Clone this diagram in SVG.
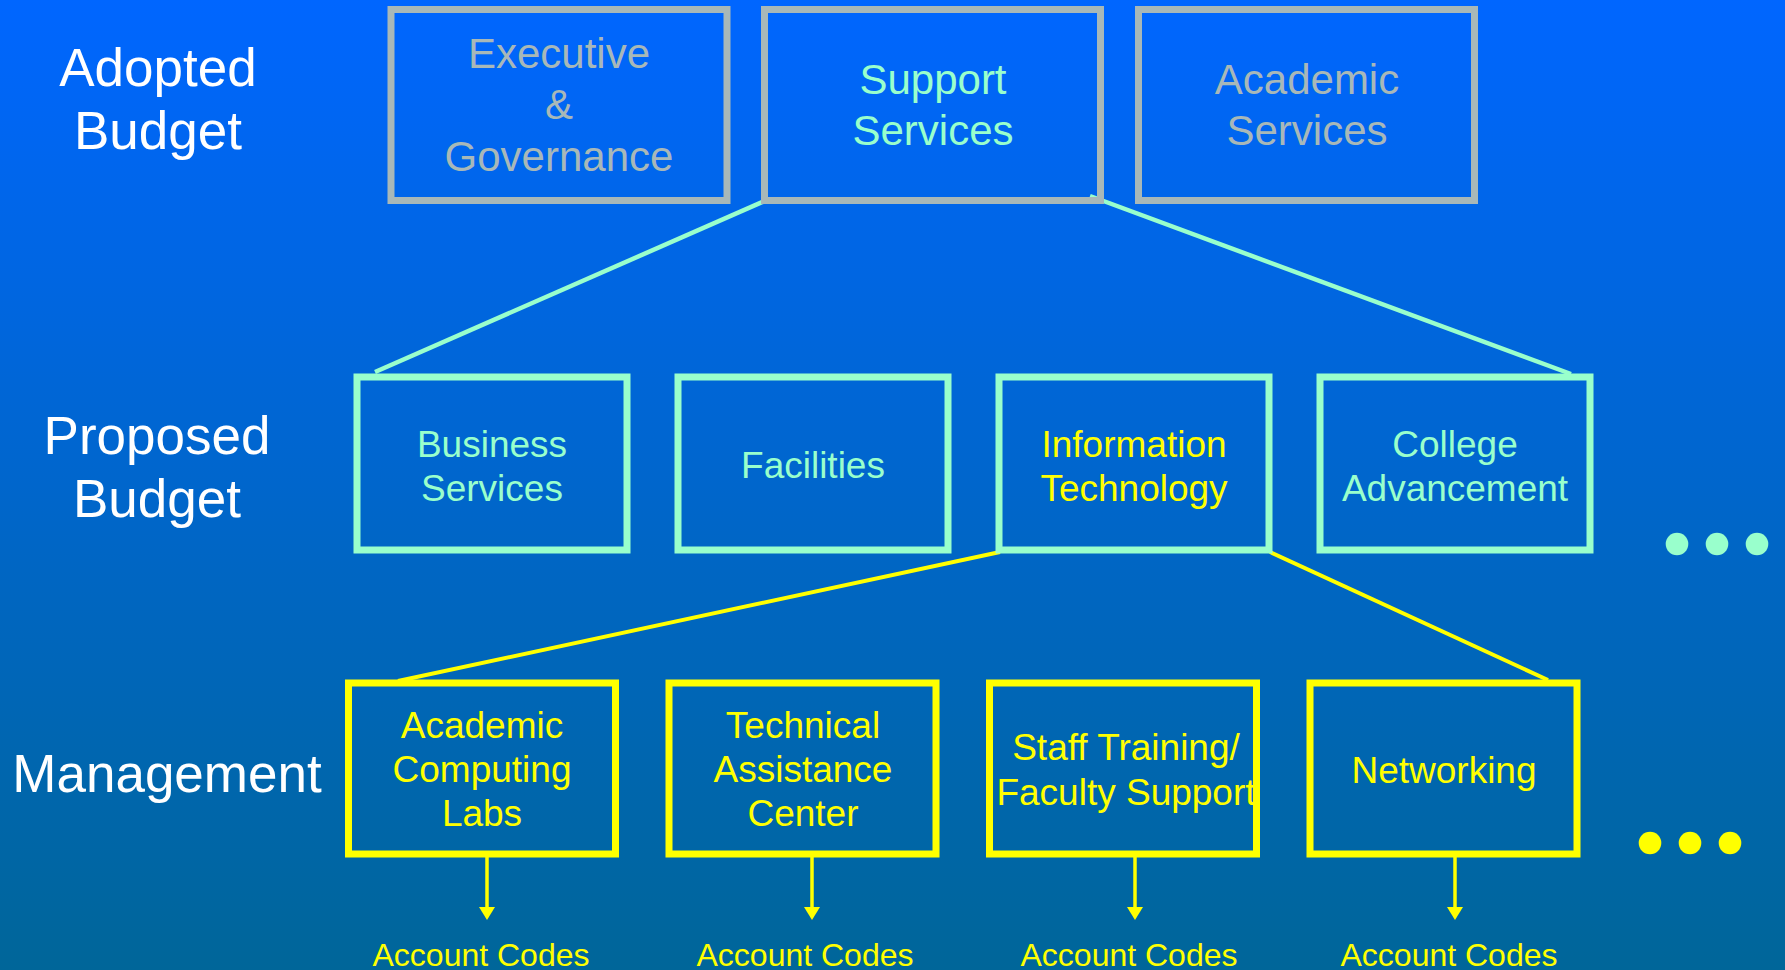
<svg xmlns="http://www.w3.org/2000/svg" width="1785" height="970" viewBox="0 0 1785 970">
  <defs>
    <linearGradient id="bg" x1="0" y1="0" x2="0" y2="1">
      <stop offset="0" stop-color="#0066FF"/>
      <stop offset="1" stop-color="#006699"/>
    </linearGradient>
    <marker id="arrowhead" markerWidth="14" markerHeight="16" refX="0" refY="8" orient="auto" markerUnits="userSpaceOnUse">
      <path d="M0,0 L13,8 L0,16 Z" fill="#FFFF00"/>
    </marker>
  </defs>
  <style>
    text { font-family: "Liberation Sans", Arial, sans-serif; text-anchor: middle; }
    .level { fill: #FFFFFF; font-size: 53px; }
    .box { fill: none; stroke-width: 7; }
    .gray { stroke: #A8B8B8; }
    .aqua { stroke: #99FFCC; }
    .yel { stroke: #FFFF00; }
    .t-gray { fill: #A8B8B8; font-size: 42px; }
    .t-aqua1 { fill: #99FFCC; font-size: 42px; }
    .t-aqua { fill: #99FFCC; font-size: 37px; }
    .t-yel { fill: #FFFF00; font-size: 37px; }
    .codes { fill: #FFFF00; font-size: 32px; }
    .link-aqua { stroke: #99FFCC; stroke-width: 4.5; fill: none; }
    .link-yel { stroke: #FFFF00; stroke-width: 4; fill: none; }
    .down { stroke: #FFFF00; stroke-width: 3.5; fill: none; }
  </style>

  <rect width="1785" height="970" fill="url(#bg)"/>

  <!-- level labels -->
  <g id="levels">
    <text class="level" x="158" y="86">Adopted</text>
    <text class="level" x="158" y="149">Budget</text>
    <text class="level" x="157" y="454">Proposed</text>
    <text class="level" x="157" y="517">Budget</text>
    <text class="level" x="167" y="792">Management</text>
  </g>

  <!-- connectors -->
  <g id="connectors">
    <line class="link-aqua" x1="767" y1="200" x2="375" y2="372"/>
    <line class="link-aqua" x1="1090" y1="196" x2="1571" y2="374"/>
    <line class="link-yel" x1="1000" y1="552" x2="398" y2="681"/>
    <line class="link-yel" x1="1270" y1="552" x2="1548" y2="680"/>
    <line class="down" x1="487" y1="856" x2="487" y2="907" marker-end="url(#arrowhead)"/>
    <line class="down" x1="812" y1="856" x2="812" y2="907" marker-end="url(#arrowhead)"/>
    <line class="down" x1="1135" y1="856" x2="1135" y2="907" marker-end="url(#arrowhead)"/>
    <line class="down" x1="1455" y1="856" x2="1455" y2="907" marker-end="url(#arrowhead)"/>
  </g>

  <!-- adopted budget level -->
  <g id="executive-governance">
    <rect class="box gray" x="391" y="9.5" width="336" height="191"/>
    <text class="t-gray" x="559" y="68">Executive</text>
    <text class="t-gray" x="559" y="119">&amp;</text>
    <text class="t-gray" x="559" y="171">Governance</text>
  </g>
  <g id="support-services">
    <rect class="box gray" x="764.5" y="9.5" width="336" height="191"/>
    <text class="t-aqua1" x="933" y="94">Support</text>
    <text class="t-aqua1" x="933" y="145">Services</text>
  </g>
  <g id="academic-services">
    <rect class="box gray" x="1138.5" y="9.5" width="336" height="191"/>
    <text class="t-gray" x="1307" y="94">Academic</text>
    <text class="t-gray" x="1307" y="145">Services</text>
  </g>

  <!-- proposed budget level -->
  <g id="business-services">
    <rect class="box aqua" x="357" y="377" width="270" height="173"/>
    <text class="t-aqua" x="492" y="457">Business</text>
    <text class="t-aqua" x="492" y="501">Services</text>
  </g>
  <g id="facilities">
    <rect class="box aqua" x="678" y="377" width="270" height="173"/>
    <text class="t-aqua" x="813" y="478">Facilities</text>
  </g>
  <g id="information-technology">
    <rect class="box aqua" x="999" y="377" width="270" height="173"/>
    <text class="t-yel" x="1134" y="457">Information</text>
    <text class="t-yel" x="1134" y="501">Technology</text>
  </g>
  <g id="college-advancement">
    <rect class="box aqua" x="1320" y="377" width="270" height="173"/>
    <text class="t-aqua" x="1455" y="457">College</text>
    <text class="t-aqua" x="1455" y="501">Advancement</text>
  </g>
  <g id="more-proposed">
    <circle cx="1677" cy="544" r="11.3" fill="#99FFCC"/>
    <circle cx="1717" cy="544" r="11.3" fill="#99FFCC"/>
    <circle cx="1757" cy="544" r="11.3" fill="#99FFCC"/>
  </g>

  <!-- management level -->
  <g id="academic-computing-labs">
    <rect class="box yel" x="348.5" y="683" width="267" height="171"/>
    <text class="t-yel" x="482" y="738">Academic</text>
    <text class="t-yel" x="482" y="782">Computing</text>
    <text class="t-yel" x="482" y="826">Labs</text>
    <text class="codes" x="481" y="966">Account Codes</text>
  </g>
  <g id="technical-assistance-center">
    <rect class="box yel" x="669" y="683" width="267" height="171"/>
    <text class="t-yel" x="803" y="738">Technical</text>
    <text class="t-yel" x="803" y="782">Assistance</text>
    <text class="t-yel" x="803" y="826">Center</text>
    <text class="codes" x="805" y="966">Account Codes</text>
  </g>
  <g id="staff-training">
    <rect class="box yel" x="989.5" y="683" width="267" height="171"/>
    <text class="t-yel" x="1126" y="760">Staff Training/</text>
    <text class="t-yel" x="1126" y="805">Faculty Support</text>
    <text class="codes" x="1129" y="966">Account Codes</text>
  </g>
  <g id="networking">
    <rect class="box yel" x="1310" y="683" width="267" height="171"/>
    <text class="t-yel" x="1444" y="783">Networking</text>
    <text class="codes" x="1449" y="966">Account Codes</text>
  </g>
  <g id="more-management">
    <circle cx="1650" cy="843" r="11.3" fill="#FFFF00"/>
    <circle cx="1690" cy="843" r="11.3" fill="#FFFF00"/>
    <circle cx="1730" cy="843" r="11.3" fill="#FFFF00"/>
  </g>
</svg>
